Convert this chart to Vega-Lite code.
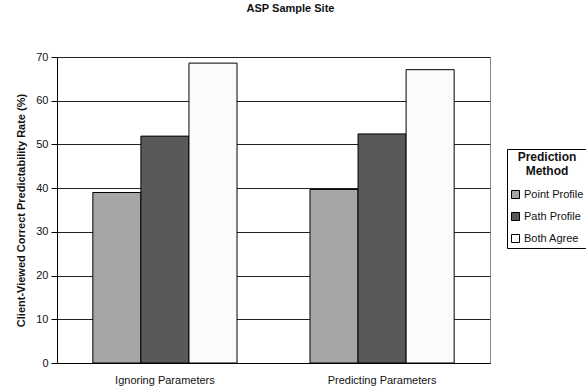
{
  "$schema": "https://vega.github.io/schema/vega-lite/v6.json",
  "autosize": {"type": "none"},
  "width": 433,
  "height": 306,
  "padding": {"left": 57, "top": 57, "right": 96, "bottom": 28},
  "background": "white",
  "title": {
    "text": "ASP Sample Site",
    "font": "Liberation Sans",
    "fontSize": 11,
    "fontWeight": "bold",
    "color": "#111",
    "anchor": "middle",
    "offset": 37,
    "dx": 17
  },
  "data": {
    "values": [
      {"scenario": "Ignoring Parameters", "method": "Point Profile", "rate": 39.0},
      {"scenario": "Ignoring Parameters", "method": "Path Profile", "rate": 51.9},
      {"scenario": "Ignoring Parameters", "method": "Both Agree", "rate": 68.6},
      {"scenario": "Predicting Parameters", "method": "Point Profile", "rate": 39.7},
      {"scenario": "Predicting Parameters", "method": "Path Profile", "rate": 52.4},
      {"scenario": "Predicting Parameters", "method": "Both Agree", "rate": 67.1}
    ]
  },
  "mark": {"type": "bar", "stroke": "black", "strokeWidth": 1},
  "encoding": {
    "x": {
      "field": "scenario",
      "type": "nominal",
      "scale": {"paddingInner": 0.336, "paddingOuter": 0.165},
      "axis": {
        "title": null,
        "labelAngle": 0,
        "ticks": false,
        "labelPadding": 11,
        "labelFont": "Liberation Sans",
        "labelFontSize": 11,
        "labelColor": "#111",
        "domainColor": "black"
      }
    },
    "xOffset": {
      "field": "method",
      "type": "nominal",
      "sort": ["Point Profile", "Path Profile", "Both Agree"],
      "scale": {"paddingInner": 0, "paddingOuter": 0}
    },
    "y": {
      "field": "rate",
      "type": "quantitative",
      "scale": {"domain": [0, 70], "nice": false},
      "axis": {
        "title": "Client-Viewed Correct Predictability Rate (%)",
        "titleFont": "Liberation Sans",
        "titleFontSize": 11,
        "titleFontWeight": "bold",
        "titleColor": "#111",
        "titlePadding": 9,
        "values": [0, 10, 20, 30, 40, 50, 60, 70],
        "labelFont": "Liberation Sans",
        "labelFontSize": 11,
        "labelColor": "#111",
        "labelPadding": 3,
        "tickSize": 6,
        "tickColor": "black",
        "domainColor": "black",
        "grid": true,
        "gridColor": "#222",
        "gridWidth": 1
      }
    },
    "fill": {
      "field": "method",
      "type": "nominal",
      "sort": ["Point Profile", "Path Profile", "Both Agree"],
      "scale": {
        "domain": ["Point Profile", "Path Profile", "Both Agree"],
        "range": ["#a6a6a6", "#595959", "#fbfbfb"]
      },
      "legend": {
        "title": ["Prediction", "Method"],
        "titleFont": "Liberation Sans",
        "titleFontSize": 12,
        "titleFontWeight": "bold",
        "titleColor": "#111",
        "titleAnchor": "middle",
        "titleAlign": "center",
        "titlePadding": 11,
        "orient": "none",
        "legendX": 450,
        "legendY": 92,
        "strokeColor": "black",
        "padding": 3,
        "symbolType": "square",
        "symbolSize": 64,
        "symbolStrokeColor": "black",
        "symbolStrokeWidth": 1,
        "labelFont": "Liberation Sans",
        "labelFontSize": 11,
        "labelColor": "#111",
        "labelOffset": 3,
        "rowPadding": 9
      }
    }
  },
  "config": {
    "view": {"stroke": "#888", "strokeWidth": 1}
  }
}
